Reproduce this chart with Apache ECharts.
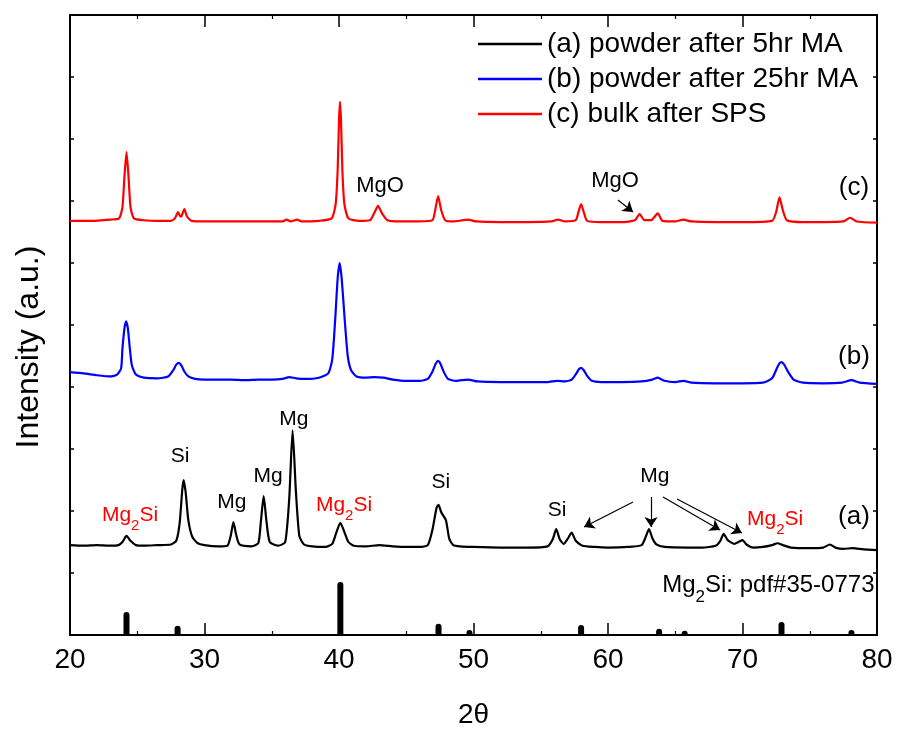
<!DOCTYPE html>
<html><head><meta charset="utf-8">
<script src="https://cdn.jsdelivr.net/npm/echarts@6/dist/echarts.min.js"></script>
<style>html,body{margin:0;padding:0;background:#fff}#c{width:897px;height:734px}</style>
</head><body><div id="c"></div>
<script>
const FONT = '"Liberation Sans", Arial, Helvetica, sans-serif';
const seriesNames = ['(a) powder after 5hr MA', '(b) powder after 25hr MA', '(c) bulk after SPS'];
const seriesColors = ['#000000', '#0000ff', '#ff0000'];
const xMin = 20, xMax = 80, xStep = 10;
const yMin = 0, yMax = 10, yStep = 1;

// (a) powder after 5hr MA  [2theta, offset intensity]
const patternA = [
  [20,1.45],[21,1.44],[22,1.45],[23,1.44],[23.6,1.45],[23.9,1.5],[24.2,1.6],[24.5,1.52],[24.9,1.45],
  [25.5,1.44],[26.5,1.45],[27.5,1.46],[27.9,1.52],[28.15,1.8],[28.35,2.35],[28.45,2.5],[28.6,2.3],
  [28.8,1.85],[29.1,1.58],[29.5,1.48],[30,1.45],[31,1.43],[31.7,1.44],[31.95,1.6],[32.15,1.82],
  [32.35,1.62],[32.6,1.46],[33.5,1.43],[34.0,1.48],[34.2,1.85],[34.4,2.24],[34.6,1.85],[34.85,1.5],
  [35.5,1.44],[36.0,1.5],[36.3,2.2],[36.55,3.3],[36.8,2.3],[37.05,1.6],[37.4,1.46],[38,1.43],
  [39,1.42],[39.5,1.47],[39.8,1.65],[40.1,1.81],[40.4,1.66],[40.7,1.5],[41.1,1.44],[42,1.43],
  [43,1.45],[44,1.43],[45,1.42],[46,1.42],[46.6,1.45],[46.95,1.7],[47.25,2.05],[47.4,2.1],
  [47.6,1.98],[47.95,1.85],[48.2,1.55],[48.5,1.45],[49,1.43],[50,1.42],[52,1.41],[54,1.41],
  [55.5,1.43],[55.9,1.55],[56.15,1.71],[56.4,1.55],[56.7,1.47],[57.0,1.55],[57.3,1.65],[57.6,1.52],
  [58.1,1.44],[59,1.42],[60,1.41],[61.5,1.42],[62.5,1.45],[62.8,1.58],[63.05,1.71],[63.3,1.56],
  [63.6,1.46],[64.2,1.42],[66,1.41],[67,1.41],[68,1.44],[68.35,1.52],[68.6,1.63],[68.9,1.53],
  [69.4,1.47],[69.7,1.5],[70.0,1.53],[70.3,1.46],[70.8,1.41],[71.5,1.42],[72.2,1.45],[72.6,1.48],
  [73.0,1.45],[73.6,1.41],[75,1.40],[76,1.41],[76.5,1.46],[76.9,1.41],[77.5,1.39],[78.2,1.40],
  [79,1.38],[80,1.37]
];

// (b) powder after 25hr MA
const patternB = [
  [20,4.24],[21,4.22],[22,4.19],[23,4.17],[23.5,4.2],[23.8,4.3],[23.9,4.62],[24.05,4.95],[24.17,5.06],
  [24.3,4.95],[24.45,4.62],[24.6,4.35],[24.9,4.2],[25.5,4.15],[26.5,4.14],[27.3,4.17],[27.7,4.28],
  [27.9,4.36],[28.1,4.39],[28.3,4.34],[28.5,4.25],[28.8,4.17],[29.3,4.13],[30,4.12],[31,4.12],
  [32,4.12],[33,4.11],[34,4.12],[35,4.12],[35.8,4.13],[36.3,4.16],[36.8,4.14],[37.5,4.13],
  [38.5,4.15],[39.2,4.22],[39.5,4.45],[39.72,5.1],[39.9,5.75],[40.05,6.0],[40.2,5.75],[40.42,5.1],
  [40.65,4.5],[40.9,4.27],[41.3,4.17],[42,4.15],[42.6,4.16],[43.3,4.15],[44,4.12],[45,4.1],[46,4.1],
  [46.6,4.13],[46.95,4.25],[47.2,4.38],[47.37,4.42],[47.55,4.37],[47.8,4.24],[48.1,4.13],[48.7,4.1],
  [49.6,4.12],[50.3,4.09],[52,4.08],[54,4.08],[55.5,4.08],[56.2,4.10],[56.8,4.09],[57.3,4.12],
  [57.65,4.22],[57.85,4.29],[58.0,4.31],[58.2,4.27],[58.45,4.18],[58.8,4.1],[59.5,4.08],[61,4.08],
  [62.5,4.09],[63.3,4.12],[63.7,4.15],[64.2,4.1],[65,4.08],[65.6,4.1],[66.2,4.07],[68,4.06],[70,4.06],
  [71.5,4.07],[72.2,4.14],[72.55,4.3],[72.75,4.38],[72.9,4.40],[73.1,4.36],[73.4,4.24],[73.8,4.12],
  [74.5,4.07],[76,4.06],[77.4,4.07],[78.1,4.11],[78.7,4.07],[80,4.05]
];

// (c) bulk after SPS
const patternC = [
  [20,6.68],[21.5,6.68],[23,6.7],[23.65,6.72],[23.9,6.9],[24.05,7.4],[24.2,7.79],[24.35,7.4],
  [24.5,6.9],[24.75,6.72],[25.5,6.69],[26.5,6.68],[27.5,6.68],[27.8,6.72],[28.03,6.82],[28.2,6.75],
  [28.3,6.76],[28.5,6.87],[28.7,6.75],[29.05,6.68],[30,6.67],[32,6.67],[34,6.67],[35.8,6.67],
  [36.1,6.7],[36.4,6.67],[36.9,6.70],[37.2,6.67],[38.5,6.68],[39.45,6.72],[39.75,6.95],[39.9,7.5],
  [40.0,8.3],[40.07,8.6],[40.15,8.3],[40.25,7.5],[40.4,6.95],[40.7,6.72],[41.5,6.68],[42.3,6.69],
  [42.65,6.82],[42.9,6.92],[43.2,6.8],[43.6,6.69],[44.5,6.67],[46,6.67],[46.95,6.69],[47.15,6.85],
  [47.37,7.08],[47.6,6.85],[47.9,6.69],[48.5,6.67],[49.6,6.70],[50.2,6.67],[52,6.66],[54,6.66],
  [55.8,6.67],[56.3,6.70],[56.8,6.67],[57.6,6.69],[57.8,6.82],[58.0,6.95],[58.2,6.82],[58.45,6.68],
  [59.5,6.66],[61,6.66],[62.0,6.69],[62.35,6.79],[62.7,6.69],[63.2,6.69],[63.7,6.8],[64.05,6.68],
  [65,6.67],[65.6,6.7],[66.2,6.67],[68,6.66],[70,6.66],[72.2,6.68],[72.5,6.82],[72.75,7.06],
  [73.0,6.85],[73.3,6.69],[74.5,6.66],[76,6.66],[77.5,6.67],[78.0,6.73],[78.5,6.67],[80,6.65]
];

// Mg2Si reference pattern pdf#35-0773 sticks [2theta, height]
const pdfSticks = [
  [24.2,0.37],[28.0,0.15],[40.1,0.855],[47.4,0.18],[49.7,0.08],[58.0,0.16],[63.8,0.10],
  [65.7,0.07],[72.9,0.21],[78.1,0.08]
];

// Annotation labels [2theta, y] with text
const labelItems = [
  {at:[24.46,1.93], text:'{n|Mg}{s|2}{n|Si}', color:'#ff0000', size:21},
  {at:[28.18,2.87], text:'{n|Si}', color:'#000000', size:21},
  {at:[32.04,2.13], text:'{n|Mg}', color:'#000000', size:21},
  {at:[34.72,2.55], text:'{n|Mg}', color:'#000000', size:21},
  {at:[36.65,3.47], text:'{n|Mg}', color:'#000000', size:21},
  {at:[40.37,2.09], text:'{n|Mg}{s|2}{n|Si}', color:'#ff0000', size:21},
  {at:[47.58,2.45], text:'{n|Si}', color:'#000000', size:21},
  {at:[56.21,2.0], text:'{n|Si}', color:'#000000', size:21},
  {at:[63.49,2.55], text:'{n|Mg}', color:'#000000', size:21},
  {at:[72.42,1.86], text:'{n|Mg}{s|2}{n|Si}', color:'#ff0000', size:21},
  {at:[43.05,7.24], text:'{n|MgO}', color:'#000000', size:22},
  {at:[60.52,7.31], text:'{n|MgO}', color:'#000000', size:22},
  {at:[78.29,1.89], text:'{n|(a)}', color:'#000000', size:26},
  {at:[78.29,4.48], text:'{n|(b)}', color:'#000000', size:26},
  {at:[78.29,7.21], text:'{n|(c)}', color:'#000000', size:26}
];
const pdfLabel = {at:[79.85,0.80], text:'{n|Mg}{s|2}{n|Si: pdf#35-0773}', size:24};

// Arrows [[from],[to]] in data coordinates
const arrowSegments = [
  [[61.86,2.145],[58.22,1.742]],
  [[63.20,2.226],[63.20,1.742]],
  [[64.09,2.226],[68.33,1.694]],
  [[65.13,2.194],[69.96,1.645]],
  [[60.74,7.016],[61.86,6.823]]
];

function richFor(size, color) {
  const sub = Math.round(size * 0.7);
  return {
    n: {fontSize: size, fontFamily: FONT, color: color, opacity: 1, lineHeight: size + 1, verticalAlign: 'top',
        textBorderWidth: 0},
    s: {fontSize: sub, fontFamily: FONT, color: color, opacity: 1, lineHeight: sub, verticalAlign: 'top',
        textBorderWidth: 0, padding: [Math.round(size * 0.68), 0, 0, 0]}
  };
}

const chart = echarts.init(document.getElementById('c'), null, {renderer: 'canvas'});

const axisLineStyle = {color: '#000', width: 2};
const xCommon = {
  type: 'value', min: xMin, max: xMax, interval: xStep,
  axisLine: {show: true, onZero: false, lineStyle: axisLineStyle},
  axisTick: {show: true, inside: true, length: 12, lineStyle: {color: '#000', width: 1.5}},
  minorTick: {show: true, splitNumber: 2, length: 4, lineStyle: {color: '#000', width: 1.2}},
  splitLine: {show: false}, minorSplitLine: {show: false}
};
const yCommon = {
  type: 'value', min: yMin, max: yMax, interval: yStep,
  axisLine: {show: true, onZero: false, lineStyle: axisLineStyle},
  axisTick: {show: true, inside: true, length: 4, lineStyle: {color: '#000', width: 1.5}},
  axisLabel: {show: false},
  splitLine: {show: false}
};

const lineSeries = [patternA, patternB, patternC].map((d, i) => ({
  name: seriesNames[i], type: 'line', data: d, showSymbol: false, symbol: 'none',
  smooth: 0.2,
  lineStyle: {color: seriesColors[i], width: 2.2}, itemStyle: {color: seriesColors[i]},
  z: 3, silent: true
}));

function labelSeries(items, extra) {
  return {
    type: 'scatter', silent: true, symbolSize: 1, z: 5,
    itemStyle: {color: 'transparent', opacity: 1},
    data: items.map(l => ({
      value: l.at,
      itemStyle: {opacity: 1},
      label: Object.assign({show: true, position: 'inside', formatter: l.text, color: l.color,
        opacity: 1, textBorderWidth: 0, textShadowBlur: 0, rich: richFor(l.size, l.color)}, extra || {})
    }))
  };
}

const option = {
  backgroundColor: '#fff',
  animation: false,
  grid: {left: 70, right: 20, top: 15, bottom: 99, containLabel: false},
  xAxis: [
    Object.assign({}, xCommon, {
      position: 'bottom',
      axisLabel: {show: true, color: '#000', fontSize: 28, fontFamily: FONT, margin: 11},
      name: '2θ', nameLocation: 'middle', nameGap: 66,
      nameTextStyle: {color: '#000', fontSize: 28, fontFamily: FONT}
    }),
    Object.assign({}, xCommon, {position: 'top', axisLabel: {show: false}})
  ],
  yAxis: [
    Object.assign({}, yCommon, {position: 'left'}),
    Object.assign({}, yCommon, {position: 'right'})
  ],
  legend: {
    orient: 'vertical', left: 473, top: 25, itemWidth: 64, itemHeight: 2.5, itemGap: 7,
    icon: 'rect', data: seriesNames,
    textStyle: {color: '#000', fontSize: 28, fontFamily: FONT, padding: [0, 0, 0, 0]}
  },
  graphic: [{
    type: 'text', x: 29, y: 347, rotation: Math.PI / 2,
    style: {text: 'Intensity (a.u.)', fill: '#000', font: '32px ' + FONT, align: 'center', verticalAlign: 'middle'}
  }],
  series: lineSeries.concat([
    {
      type: 'custom', name: 'pdf', silent: true, z: 2,
      data: pdfSticks,
      renderItem: function (params, api) {
        const base = api.coord([api.value(0), 0]);
        const top = api.coord([api.value(0), api.value(1)]);
        const w = 6;
        return {
          type: 'rect',
          shape: {x: base[0] - w / 2, y: top[1], width: w, height: base[1] - top[1], r: [3, 3, 0, 0]},
          style: {fill: '#000'}
        };
      }
    },
    labelSeries(labelItems),
    labelSeries([{at: pdfLabel.at, text: pdfLabel.text, size: pdfLabel.size, color: '#000000'}],
      {position: 'left', distance: 0, align: 'right'}),
    {
      type: 'lines', coordinateSystem: 'cartesian2d', silent: true, z: 6,
      symbol: ['none', 'arrow'], symbolSize: 10,
      lineStyle: {color: '#000', width: 1.2, opacity: 1, curveness: 0},
      data: arrowSegments.map(s => ({coords: s}))
    }
  ])
};
chart.setOption(option);
</script>
</body></html>
